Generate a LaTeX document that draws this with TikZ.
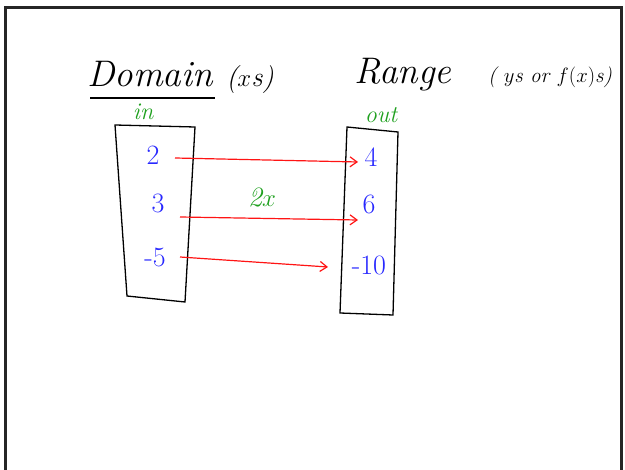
\documentclass[tikz,border=0pt]{standalone}
\usepackage{fontspec}
\usetikzlibrary{arrows.meta}
\definecolor{inkblue}{RGB}{40,40,255}
\definecolor{inkred}{RGB}{255,20,20}
\definecolor{inkgreen}{RGB}{30,160,30}
\tikzset{
  frame/.style={line width=3pt,black!85},
  box/.style={line width=1.3pt,black},
  num/.style={text=inkblue,font=\fontsize{28}{28}\selectfont,inner sep=1pt},
  title/.style={font=\fontsize{37}{37}\selectfont\itshape,inner sep=0pt},
  sub/.style={font=\fontsize{28}{28}\selectfont\itshape,inner sep=0pt},
  greenlbl/.style={text=inkgreen,font=\fontsize{24}{24}\selectfont\itshape,inner sep=1pt},
  maparrow/.style={inkred,line width=1.2pt,-{Straight Barb[length=7pt,width=10pt]}}
}
\begin{document}
\begin{tikzpicture}[x=1pt,y=-1pt]
\useasboundingbox (0,0) rectangle (625,470);
\draw[frame] (5,470) -- (5,8) -- (621,8) -- (621,470);
% titles
\node[title] (dom) at (150,74) {Domain};
\node[sub] (xs) at (250,80) {($x$s)};
\draw[line width=1.1pt] (90,98) -- (215,98);
\node[title] (rng) at (403,75) {Range};
\node[sub,font=\fontsize{21}{21}\selectfont\itshape] (ys) at (550,77) {( $y$s or $f(x)$s)};
\node[greenlbl] (in) at (143,112) {in};
\node[greenlbl] (out) at (381,115) {out};
% boxes
\draw[box] (115,125) -- (195,127) -- (185,302) -- (127,296) -- cycle;
\draw[box] (347,127) -- (398,132) -- (393,315) -- (340,313) -- cycle;
% numbers
\node[num] (a2) at (153,155) {2};
\node[num] (a3) at (158,203) {3};
\node[num] (a5) at (155,257) {-5};
\node[num] (b4) at (371,157) {4};
\node[num] (b6) at (369,204) {6};
\node[num] (b10) at (369,265) {-10};
\node[greenlbl,font=\fontsize{28}{28}\selectfont\itshape] (rule) at (262,197) {2$x$};
% arrows
\coordinate (s1) at (175,158); \coordinate (e1) at (358,162);
\coordinate (s2) at (180,217); \coordinate (e2) at (358,220);
\coordinate (s3) at (180,257); \coordinate (e3) at (328,267);
\draw[maparrow] (s1) -- (e1);
\draw[maparrow] (s2) -- (e2);
\draw[maparrow] (s3) -- (e3);
\end{tikzpicture}
\end{document}
